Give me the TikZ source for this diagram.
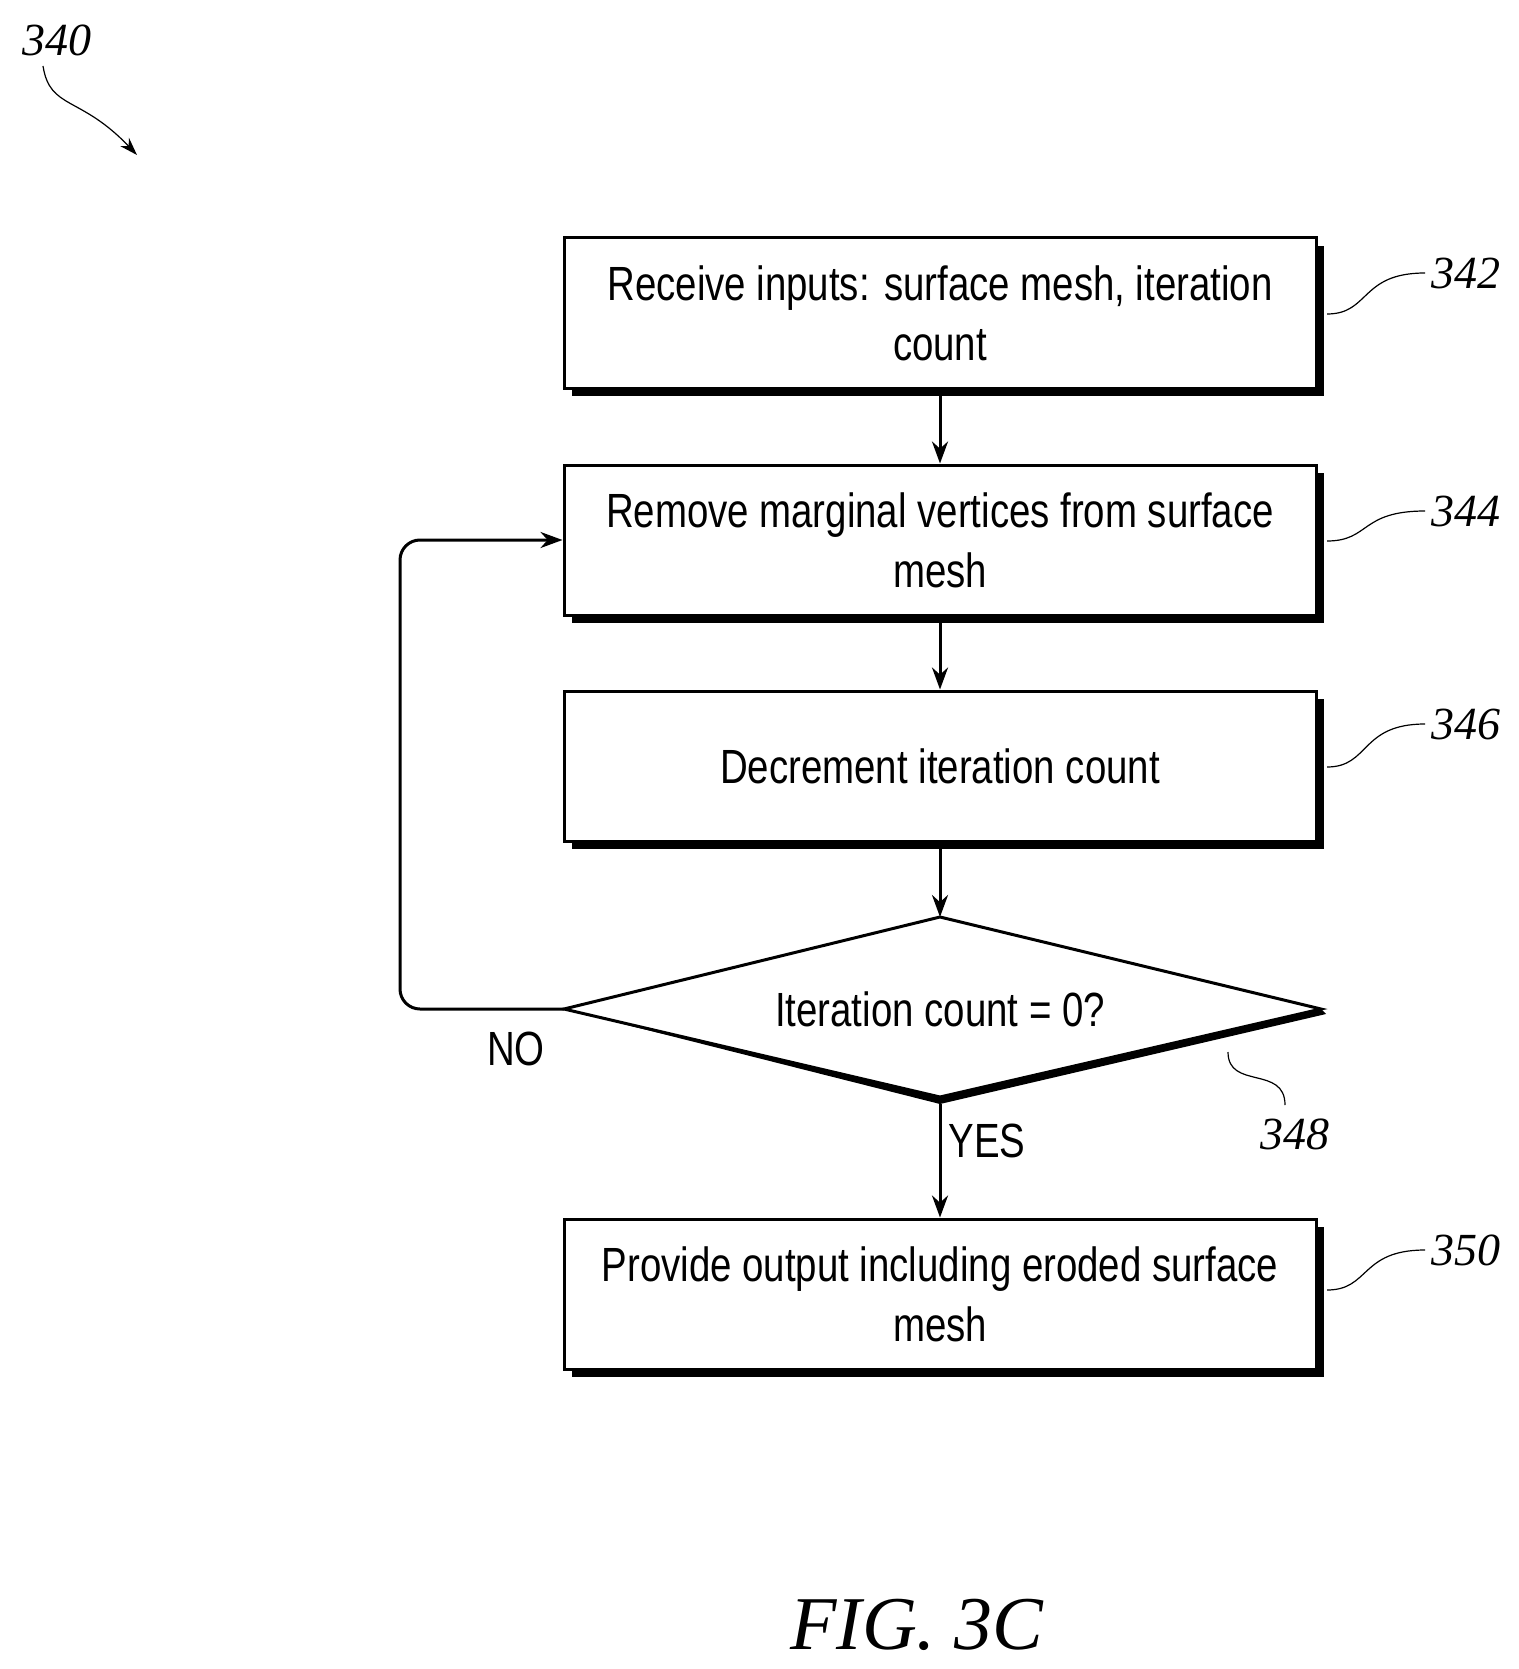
\documentclass[tikz,border=0pt]{standalone}
\usepackage{fontspec}
\setmainfont[FakeStretch=0.8]{Liberation Sans}
\newfontfamily\reffont{Liberation Serif}
\usetikzlibrary{arrows.meta}
\tikzset{
	flowbox/.style={draw,line width=1.5pt,fill=white,minimum width=376pt,minimum height=75pt,align=center,font=\fontsize{24}{30}\selectfont,inner sep=0pt},
	shade/.style={fill=black,minimum width=376pt,minimum height=75pt,inner sep=0pt},
	label/.style={font=\fontsize{24}{30}\selectfont},
	refnum/.style={font=\reffont\itshape\fontsize{23}{23}\selectfont},
	flow/.style={line width=1.5pt,-{Stealth[length=11pt,width=8pt]}},
	lead/.style={line width=0.6pt}
}
\begin{document}
\begin{tikzpicture}[x=0.5pt,y=-0.5pt]
	\useasboundingbox (0,0) rectangle (1519,1669);
	
	% shadows
	\node[shade] at (948,321) {};
	\node[shade] at (948,548) {};
	\node[shade] at (948,774) {};
	\node[shade] at (948,1302) {};
	
	% boxes
	\node[flowbox] (recv) at (940,313) {Receive inputs: surface mesh, iteration\\count};
	\node[flowbox] (remove) at (940,540) {Remove marginal vertices from surface\\mesh};
	\node[flowbox] (decr) at (940,766) {Decrement iteration count};
	\node[flowbox] (out) at (940,1294) {Provide output including eroded surface\\mesh};
	
	% decision
	\coordinate (chkW) at (564,1009);
	\coordinate (chkE) at (1321,1009);
	\coordinate (chkN) at (940,917);
	\coordinate (chkS) at (940,1104);
	\fill (chkW) -- (chkS) -- (1326,1014) -- (chkE) -- (940,1096) -- cycle;
	\draw[line width=1.5pt,fill=white,line join=miter] (chkW) -- (chkN) -- (chkE) -- (940,1097) -- cycle;
	\node[label] (check) at (940,1009) {Iteration count = 0?};
	
	% connectors
	\draw[flow] (recv) -- (remove);
	\draw[flow] (remove) -- (decr);
	\draw[flow] (decr) -- (chkN);
	\draw[flow] (chkS) -- (out);
	\draw[flow,rounded corners=10pt] (chkW) -- (400,1009) -- (400,540) -- (remove.west);
	\node[label] (no) at (516,1049) {NO};
	\node[label] (yes) at (987,1141) {YES};
	
	% reference numerals
	\node[refnum] (n340) at (57,40) {340};
	\node[refnum] (n342) at (1466,273) {342};
	\node[refnum] (n344) at (1466,511) {344};
	\node[refnum] (n346) at (1466,724) {346};
	\node[refnum] (n348) at (1295,1134) {348};
	\node[refnum] (n350) at (1466,1250) {350};
	\node[font=\reffont\itshape\fontsize{38}{38}\selectfont] (fig) at (917,1625) {FIG. 3C};
	
	\draw[lead,-{Stealth[length=9pt,width=6pt]}] (43,66) .. controls (50,110) and (80,95) .. (137,155);
	\foreach \y/\t in {314/273,541/511,767/724,1290/1250}
		\draw[lead] (1327,\y) .. controls (1370,\y) and (1360,\t) .. (1425,\t);
	\draw[lead] (1228,1052) .. controls (1228,1090) and (1285,1065) .. (1285,1105);
\end{tikzpicture}
\end{document}
